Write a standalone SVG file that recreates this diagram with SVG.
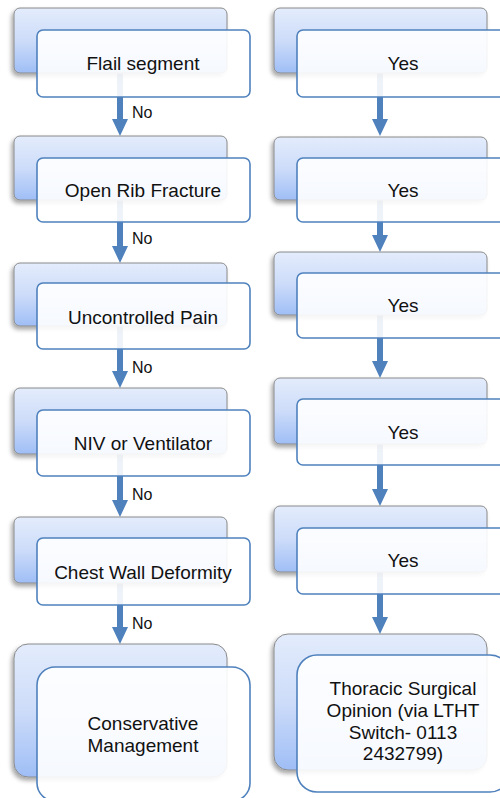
<svg xmlns="http://www.w3.org/2000/svg" width="500" height="798" viewBox="0 0 500 798">
<defs>
<linearGradient id="bg" x1="0" y1="0" x2="0" y2="1">
<stop offset="0" stop-color="#e3ecfc"/>
<stop offset="0.5" stop-color="#cddcf9"/>
<stop offset="1" stop-color="#9fbef6"/>
</linearGradient>
<filter id="sh" x="-10%" y="-10%" width="120%" height="130%">
<feDropShadow dx="-2" dy="3" stdDeviation="2" flood-color="#000" flood-opacity="0.35"/>
</filter>
</defs>
<style>
.back{fill:url(#bg);stroke:#8a8a8a;stroke-width:1;filter:url(#sh)}
.front{fill:#ffffff;fill-opacity:0.9;stroke:#4f81bd;stroke-width:1.6}
.t{font-family:"Liberation Sans",Arial,sans-serif;font-size:19px;fill:#111;text-anchor:middle}
.lbl{font-family:"Liberation Sans",Arial,sans-serif;font-size:16px;fill:#111}
.arr{fill:#4f81bd}
</style>
<rect width="500" height="798" fill="#ffffff"/>
<g id="connectors">
<polygon class="arr" points="117,73 123,73 123,119 128,119 120,136 112,119 117,119"/>
<polygon class="arr" points="117,200 123,200 123,246 128,246 120,263 112,246 117,246"/>
<polygon class="arr" points="117,326 123,326 123,371 128,371 120,388 112,371 117,371"/>
<polygon class="arr" points="117,454 123,454 123,500 128,500 120,517 112,500 117,500"/>
<polygon class="arr" points="117,583 123,583 123,627 128,627 120,644 112,627 117,627"/>
<polygon class="arr" points="377,73 383,73 383,119 388,119 380,136 372,119 377,119"/>
<polygon class="arr" points="377,200 383,200 383,235 388,235 380,252 372,235 377,235"/>
<polygon class="arr" points="377,315 383,315 383,361 388,361 380,378 372,361 377,361"/>
<polygon class="arr" points="377,444 383,444 383,489 388,489 380,506 372,489 377,489"/>
<polygon class="arr" points="377,572 383,572 383,617 388,617 380,634 372,617 377,617"/>
<text class="lbl" x="132" y="118">No</text>
<text class="lbl" x="132" y="244">No</text>
<text class="lbl" x="132" y="373">No</text>
<text class="lbl" x="132" y="500">No</text>
<text class="lbl" x="132" y="629">No</text>
</g>
<g id="flail">
<rect class="back" x="14" y="8" width="213" height="65" rx="6"/>
<rect class="front" x="37" y="30" width="213" height="67" rx="6"/>
<text class="t" x="143" y="70">Flail segment</text>
</g>
<g id="openrib">
<rect class="back" x="14" y="136" width="213" height="64" rx="6"/>
<rect class="front" x="37" y="158" width="213" height="64" rx="6"/>
<text class="t" x="143" y="197">Open Rib Fracture</text>
</g>
<g id="pain">
<rect class="back" x="14" y="263" width="213" height="63" rx="6"/>
<rect class="front" x="37" y="283" width="213" height="66" rx="6"/>
<text class="t" x="143" y="324">Uncontrolled Pain</text>
</g>
<g id="niv">
<rect class="back" x="14" y="388" width="213" height="66" rx="6"/>
<rect class="front" x="37" y="410" width="213" height="66" rx="6"/>
<text class="t" x="143" y="450">NIV or Ventilator</text>
</g>
<g id="chest">
<rect class="back" x="14" y="517" width="213" height="66" rx="6"/>
<rect class="front" x="37" y="538" width="213" height="67" rx="6"/>
<text class="t" x="143" y="579">Chest Wall Deformity</text>
</g>
<g id="conservative">
<rect class="back" x="14" y="644" width="213" height="133" rx="14"/>
<rect class="front" x="37" y="667" width="213" height="134" rx="18"/>
<text class="t" x="143" y="730">Conservative</text>
<text class="t" x="143" y="752">Management</text>
</g>
<g id="yes1">
<rect class="back" x="274" y="8" width="213" height="65" rx="6"/>
<rect class="front" x="297" y="30" width="213" height="67" rx="6"/>
<text class="t" x="403" y="70">Yes</text>
</g>
<g id="yes2">
<rect class="back" x="274" y="137" width="213" height="63" rx="6"/>
<rect class="front" x="297" y="158" width="213" height="64" rx="6"/>
<text class="t" x="403" y="197">Yes</text>
</g>
<g id="yes3">
<rect class="back" x="274" y="252" width="213" height="63" rx="6"/>
<rect class="front" x="297" y="273" width="213" height="65" rx="6"/>
<text class="t" x="403" y="312">Yes</text>
</g>
<g id="yes4">
<rect class="back" x="274" y="378" width="213" height="66" rx="6"/>
<rect class="front" x="297" y="399" width="213" height="66" rx="6"/>
<text class="t" x="403" y="439">Yes</text>
</g>
<g id="yes5">
<rect class="back" x="274" y="506" width="213" height="66" rx="6"/>
<rect class="front" x="297" y="528" width="213" height="66" rx="6"/>
<text class="t" x="403" y="567">Yes</text>
</g>
<g id="thoracic">
<rect class="back" x="274" y="634" width="213" height="136" rx="14"/>
<rect class="front" x="297" y="655" width="213" height="137" rx="20"/>
<text class="t" x="403" y="695">Thoracic Surgical</text>
<text class="t" x="403" y="717">Opinion (via LTHT</text>
<text class="t" x="403" y="739">Switch- 0113</text>
<text class="t" x="403" y="760">2432799)</text>
</g>
</svg>
